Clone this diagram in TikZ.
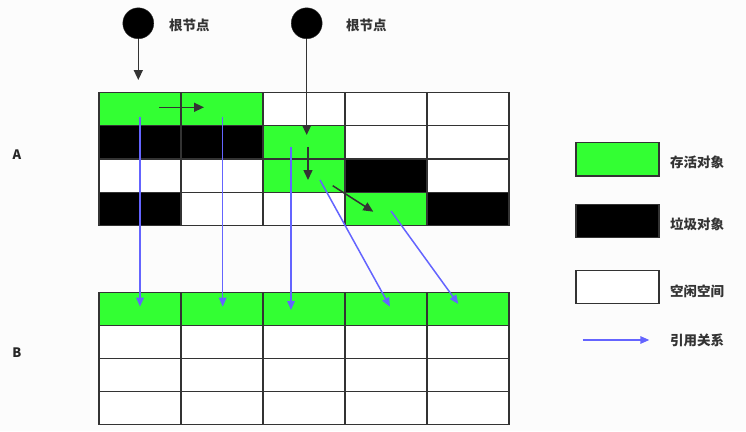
\documentclass[tikz,border=0pt]{standalone}
\usepackage{fontspec}
\newfontfamily\cjk{Noto Sans CJK SC}
\usetikzlibrary{arrows.meta}
\definecolor{G}{HTML}{33FF33}
\definecolor{K}{HTML}{000000}
\definecolor{W}{HTML}{FFFFFF}
\definecolor{cellline}{HTML}{333333}
\definecolor{refblue}{HTML}{6464FF}
\definecolor{bg}{HTML}{FCFCFC}
\begin{document}
\begin{tikzpicture}[x=1pt,y=-1pt,
  cell/.style={draw=cellline, line width=1.2pt, minimum width=82pt, minimum height=33.3pt, inner sep=0pt, outer sep=0pt, anchor=north west},
  rootnode/.style={circle, fill=black, draw=black!80, minimum size=31pt, inner sep=0pt, outer sep=0pt},
  lbl/.style={font=\cjk\bfseries\fontsize{13.5}{15}\selectfont, text=black!80, inner sep=0pt, anchor=west},
  gridlbl/.style={font=\cjk\bfseries\fontsize{13}{15}\selectfont, text=black!85, inner sep=0pt},
  darr/.style={draw=cellline, line width=1.5pt, -{Triangle[length=10pt,width=9pt]}},
  barr/.style={draw=refblue, line width=1.5pt, -{Triangle[length=9pt,width=7.5pt]}}]
\useasboundingbox[fill=bg] (0,0) rectangle (746,431);

% grid A
\foreach \r/\row in {0/{G,G,W,W,W},1/{K,K,G,W,W},2/{W,W,G,K,W},3/{K,W,W,G,K}}{
  \foreach \f [count=\c from 0] in \row {
    \node[cell, fill=\f] (a\r\c) at ({99+82*\c},{92.3+33.35*\r}) {};
  }
}
% grid B
\foreach \r/\row in {0/{G,G,G,G,G},1/{W,W,W,W,W},2/{W,W,W,W,W},3/{W,W,W,W,W}}{
  \foreach \f [count=\c from 0] in \row {
    \node[cell, fill=\f] (b\r\c) at ({99+82*\c},{292.3+33*\r}) {};
  }
}

\node[gridlbl] (labA) at (17,155) {A};
\node[gridlbl] (labB) at (17,353) {B};

% roots
\node[rootnode] (r1) at (138.3,23.3) {};
\node[rootnode] (r2) at (306.7,23.3) {};
\node[lbl] (l1) at (169,25) {根节点};
\node[lbl] (l2) at (346,25) {根节点};

% reference arrows (dark)
\coordinate (t1) at (138.3,80);
\coordinate (t2) at (306.7,135);
\coordinate (h1s) at (159,107.3);
\coordinate (h1e) at (204,107.3);
\coordinate (v1s) at (308,146.7);
\coordinate (v1e) at (308,180);
\coordinate (d1s) at (332.7,185.7);
\coordinate (d1e) at (373.3,211.7);
\draw[darr] (r1.south) -- (t1);
\draw[darr] (r2.south) -- (t2);
\draw[darr] (h1s) -- (h1e);
\draw[darr] (v1s) -- (v1e);
\draw[darr] (d1s) -- (d1e);

% copy arrows (blue)
\coordinate (c1s) at (140,116.7);   \coordinate (c1e) at (140,306.7);
\coordinate (c2s) at (222.7,116.7); \coordinate (c2e) at (222.7,306.7);
\coordinate (c3s) at (291,147.3);   \coordinate (c3e) at (291,310);
\coordinate (c4s) at (320,180);     \coordinate (c4e) at (390,306.7);
\coordinate (c5s) at (391,211);     \coordinate (c5e) at (458.3,304);
\draw[barr] (c1s) -- (c1e);
\draw[barr] (c2s) -- (c2e);
\draw[barr] (c3s) -- (c3e);
\draw[barr] (c4s) -- (c4e);
\draw[barr] (c5s) -- (c5e);

% legend
\node[cell, fill=G, minimum width=83pt] (lg1) at (576,142.7) {};
\node[cell, fill=K, minimum width=83pt] (lg2) at (576,204.3) {};
\node[cell, fill=W, minimum width=83pt] (lg3) at (576,270.5) {};
\node[lbl] (lt1) at (670,162.3) {存活对象};
\node[lbl] (lt2) at (670,224) {垃圾对象};
\node[lbl] (lt3) at (670,291) {空闲空间};
\coordinate (la1) at (582.7,340);
\coordinate (la2) at (649.3,340);
\draw[barr] (la1) -- (la2);
\node[lbl] (lt4) at (670,340) {引用关系};
\end{tikzpicture}
\end{document}
